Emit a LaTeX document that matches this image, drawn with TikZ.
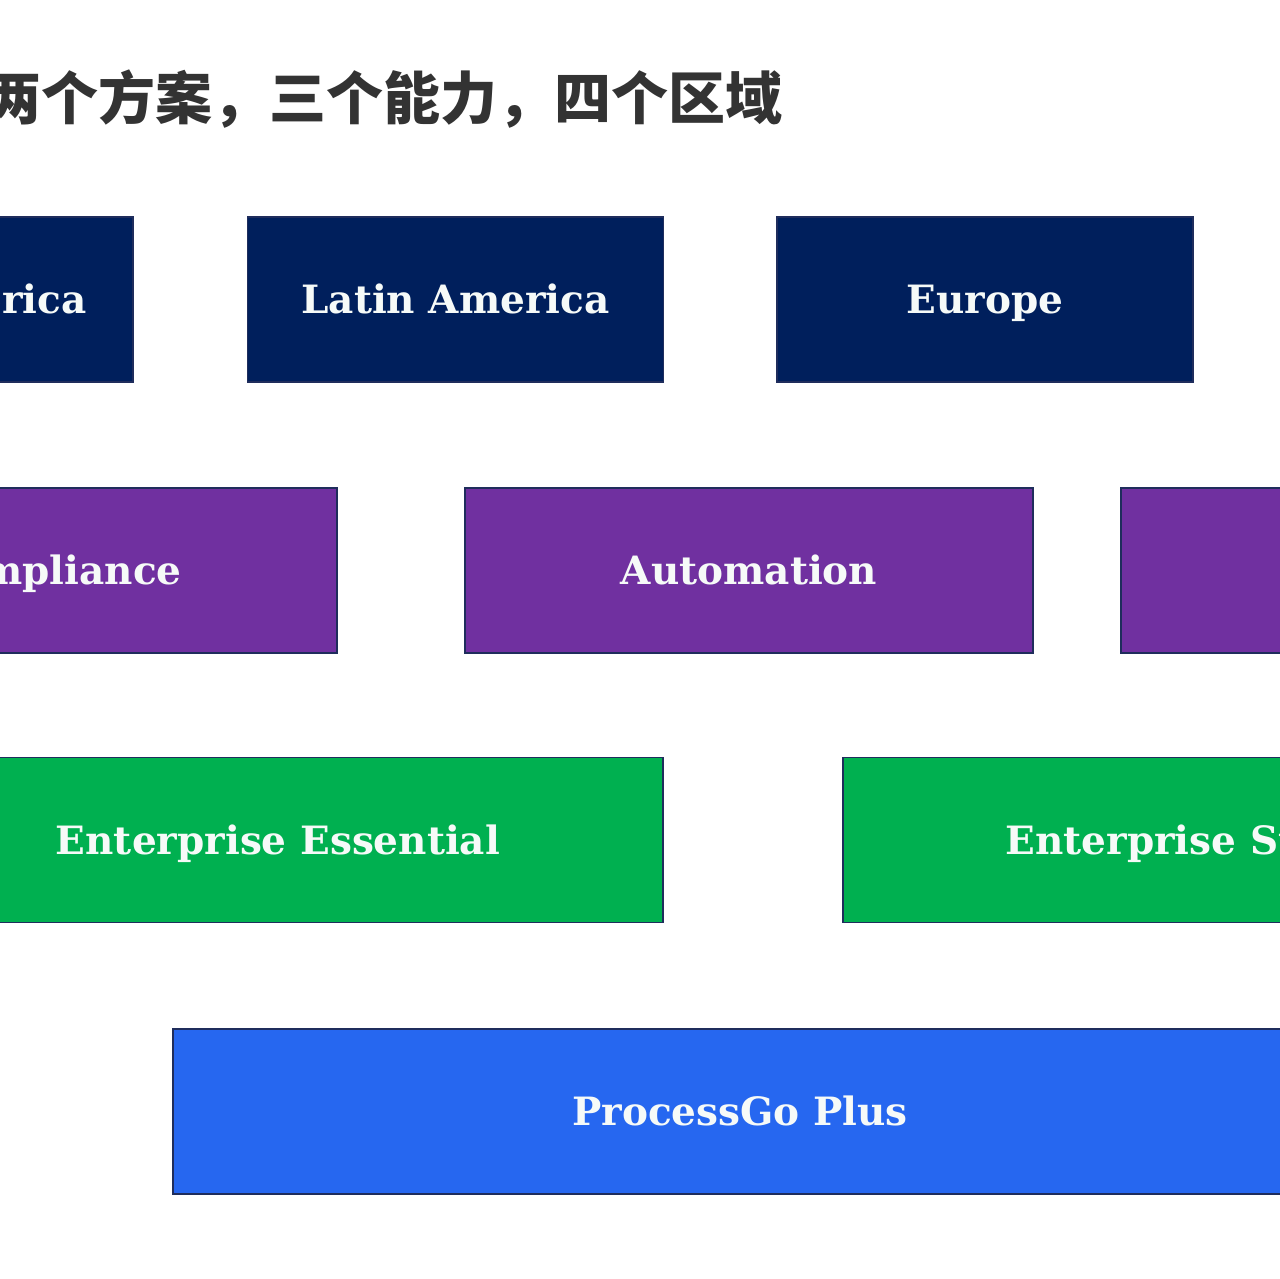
\documentclass[tikz,border=0pt]{standalone}
\usepackage{fontspec}
\setmainfont{DejaVu Serif}
\newfontfamily\cjk{Noto Sans CJK SC}
\definecolor{navybox}{HTML}{001F5C}
\definecolor{purplebox}{HTML}{7030A0}
\definecolor{greenbox}{HTML}{00B050}
\definecolor{bluebox}{HTML}{2667F0}
\definecolor{edgecol}{HTML}{1F2D5C}
\definecolor{titlecol}{HTML}{333333}
\definecolor{labelcol}{HTML}{F6FAF8}
\tikzset{
  box/.style={draw=edgecol, line width=1.5pt, minimum height=165pt, inner sep=0pt,
    text=labelcol, font=\bfseries\fontsize{39}{42}\selectfont,
    text height=28.4pt, text depth=0pt},
  regbox/.style={box, fill=navybox, minimum width=416pt},
  capbox/.style={box, fill=purplebox, minimum width=568pt},
  planbox/.style={box, fill=greenbox, minimum width=770pt},
  prodbox/.style={box, fill=bluebox, minimum width=1134pt},
}
\begin{document}
\begin{tikzpicture}[x=1pt,y=-1pt]
\useasboundingbox (0,0) rectangle (1280,1279);
\clip (0,0) rectangle (1280,1279);
\fill[white] (0,0) rectangle (1280,1279);
\node[anchor=base west, inner sep=0pt, text=titlecol, font=\cjk\bfseries\fontsize{57}{60}\selectfont] (title) at (-16,120) {两个方案，三个能力，四个区域};
\node[regbox] (na) at (-75,299.5) {North America};
\node[regbox] (la) at (455.5,299.5) {Latin America};
\node[regbox] (eu) at (985,299.5) {Europe};
\node[capbox] (co) at (53,570.5) {Compliance};
\node[capbox] (au) at (749,570.5) {Automation};
\node[capbox] (cx) at (1405,570.5) {};
\node[planbox] (ee) at (278,840) {Enterprise Essential};
\node[planbox] (es) at (1228,840) {Enterprise Standard};
\node[prodbox] (pg) at (740,1111.5) {ProcessGo Plus};
\end{tikzpicture}
\end{document}
